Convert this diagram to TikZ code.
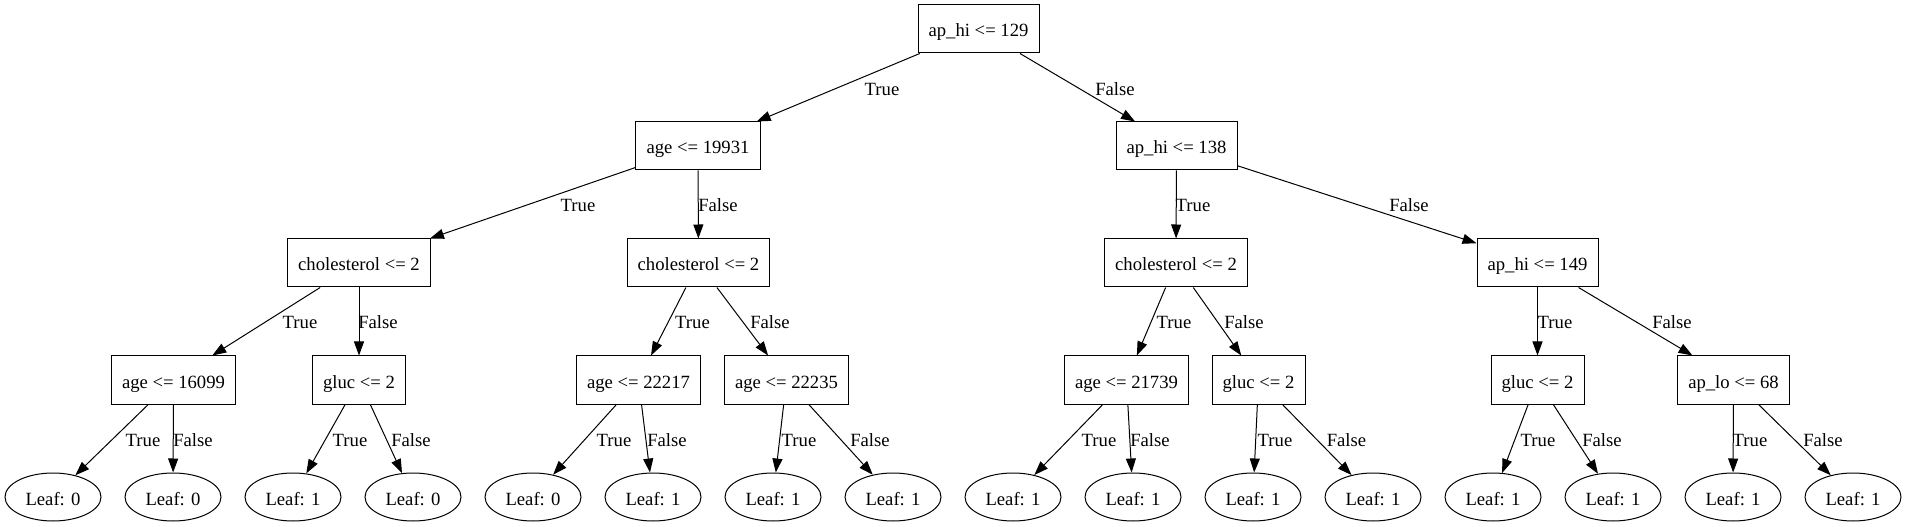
\documentclass[tikz,border=0pt]{standalone}
\usepackage{fontspec}
\setmainfont{Liberation Serif}
\usetikzlibrary{arrows.meta,shapes.geometric}
\tikzset{
  base/.style={font=\fontsize{14pt}{16pt}\selectfont, line width=0.75pt, text height=12pt, text depth=0pt},
  split/.style={base, draw, rectangle, minimum height=36pt, inner xsep=7.92pt, inner ysep=0pt},
  leaf/.style={base, draw, ellipse, minimum width=72pt, minimum height=36pt, inner sep=0pt},
  edge/.style={-{Triangle[length=10.5pt,width=7.5pt]}, line width=0.75pt},
  lbl/.style={font=\fontsize{14pt}{16pt}\selectfont, anchor=base, inner sep=0pt}
}
\begin{document}
\begin{tikzpicture}[x=0.75pt, y=-0.75pt]
\useasboundingbox (0,0) rectangle (1907,527);
% split nodes
\node[split] (n0) at (978.5,29) {ap\_hi <= 129};
\node[split] (n1) at (698,146) {age <= 19931};
\node[split] (n2) at (1176.5,146) {ap\_hi <= 138};
\node[split] (n3) at (359,263) {cholesterol <= 2};
\node[split] (n4) at (698.5,263) {cholesterol <= 2};
\node[split] (n5) at (1176,263) {cholesterol <= 2};
\node[split] (n6) at (1537.5,263) {ap\_hi <= 149};
\node[split] (n7) at (173.5,380) {age <= 16099};
\node[split] (n8) at (359,380) {gluc <= 2};
\node[split] (n9) at (638.5,380) {age <= 22217};
\node[split] (n10) at (786.5,380) {age <= 22235};
\node[split] (n11) at (1126.5,380) {age <= 21739};
\node[split] (n12) at (1258.5,380) {gluc <= 2};
\node[split] (n13) at (1537.5,380) {gluc <= 2};
\node[split] (n14) at (1733.5,380) {ap\_lo <= 68};
% leaves
\node[leaf] (l0) at (53,497) {Leaf: 0};
\node[leaf] (l1) at (173,497) {Leaf: 0};
\node[leaf] (l2) at (293,497) {Leaf: 1};
\node[leaf] (l3) at (413,497) {Leaf: 0};
\node[leaf] (l4) at (533,497) {Leaf: 0};
\node[leaf] (l5) at (653,497) {Leaf: 1};
\node[leaf] (l6) at (773,497) {Leaf: 1};
\node[leaf] (l7) at (893,497) {Leaf: 1};
\node[leaf] (l8) at (1013,497) {Leaf: 1};
\node[leaf] (l9) at (1133,497) {Leaf: 1};
\node[leaf] (l10) at (1253,497) {Leaf: 1};
\node[leaf] (l11) at (1373,497) {Leaf: 1};
\node[leaf] (l12) at (1493,497) {Leaf: 1};
\node[leaf] (l13) at (1613,497) {Leaf: 1};
\node[leaf] (l14) at (1733,497) {Leaf: 1};
\node[leaf] (l15) at (1853,497) {Leaf: 1};
% edges
\draw[edge] (n0) -- (n1) node[lbl, at={(882,96)}] {True};
\draw[edge] (n0) -- (n2) node[lbl, at={(1115,96)}] {False};
\draw[edge] (n1) -- (n3) node[lbl, at={(578,212)}] {True};
\draw[edge] (n1) -- (n4) node[lbl, at={(718,212)}] {False};
\draw[edge] (n2) -- (n5) node[lbl, at={(1193,212)}] {True};
\draw[edge] (n2) -- (n6) node[lbl, at={(1409,212)}] {False};
\draw[edge] (n3) -- (n7) node[lbl, at={(300,329)}] {True};
\draw[edge] (n3) -- (n8) node[lbl, at={(378,329)}] {False};
\draw[edge] (n4) -- (n9) node[lbl, at={(692.5,329)}] {True};
\draw[edge] (n4) -- (n10) node[lbl, at={(770,329)}] {False};
\draw[edge] (n5) -- (n11) node[lbl, at={(1174,329)}] {True};
\draw[edge] (n5) -- (n12) node[lbl, at={(1244,329)}] {False};
\draw[edge] (n6) -- (n13) node[lbl, at={(1555,329)}] {True};
\draw[edge] (n6) -- (n14) node[lbl, at={(1672,329)}] {False};
\draw[edge] (n7) -- (l0) node[lbl, at={(143,446)}] {True};
\draw[edge] (n7) -- (l1) node[lbl, at={(193,446)}] {False};
\draw[edge] (n8) -- (l2) node[lbl, at={(350,446)}] {True};
\draw[edge] (n8) -- (l3) node[lbl, at={(411,446)}] {False};
\draw[edge] (n9) -- (l4) node[lbl, at={(614,446)}] {True};
\draw[edge] (n9) -- (l5) node[lbl, at={(667,446)}] {False};
\draw[edge] (n10) -- (l6) node[lbl, at={(799,446)}] {True};
\draw[edge] (n10) -- (l7) node[lbl, at={(870,446)}] {False};
\draw[edge] (n11) -- (l8) node[lbl, at={(1099,446)}] {True};
\draw[edge] (n11) -- (l9) node[lbl, at={(1150,446)}] {False};
\draw[edge] (n12) -- (l10) node[lbl, at={(1275,446)}] {True};
\draw[edge] (n12) -- (l11) node[lbl, at={(1346.5,446)}] {False};
\draw[edge] (n13) -- (l12) node[lbl, at={(1538,446)}] {True};
\draw[edge] (n13) -- (l13) node[lbl, at={(1602,446)}] {False};
\draw[edge] (n14) -- (l14) node[lbl, at={(1750,446)}] {True};
\draw[edge] (n14) -- (l15) node[lbl, at={(1823,446)}] {False};
\end{tikzpicture}
\end{document}
